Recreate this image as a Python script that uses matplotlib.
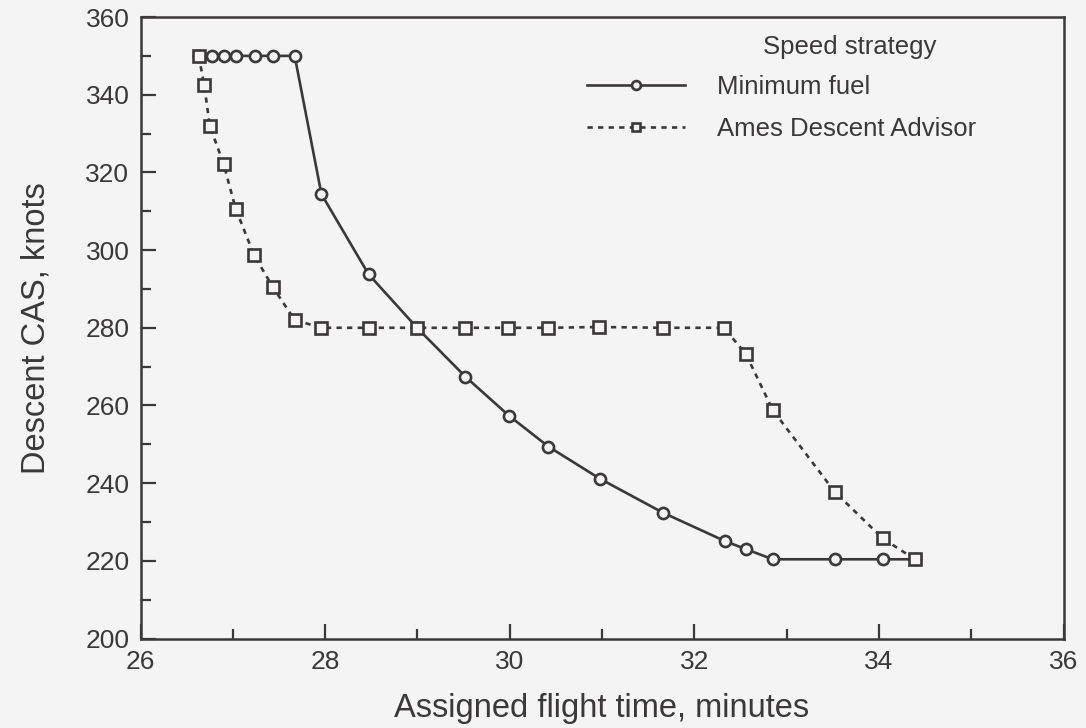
import matplotlib
matplotlib.use('Agg')
import matplotlib.pyplot as plt
from matplotlib.ticker import MultipleLocator

plt.rcParams['font.family'] = ['Liberation Sans', 'DejaVu Sans']

# Minimum fuel speed strategy (circles, solid line)
fuel_time = [26.63, 26.77, 26.90, 27.03, 27.24, 27.44, 27.67, 27.96, 28.47, 29.00,
             29.52, 29.99, 30.42, 30.98, 31.66, 32.33, 32.56, 32.85, 33.52, 34.04, 34.39]
fuel_cas = [350, 350, 350, 350, 350, 350, 350, 314.4, 293.8, 279.9,
            267.4, 257.4, 249.4, 241.1, 232.4, 225.1, 223.0, 220.4, 220.4, 220.4, 220.4]

# Ames Descent Advisor speed strategy (squares, dotted line)
ada_time = [26.63, 26.69, 26.75, 26.90, 27.03, 27.23, 27.43, 27.67, 27.96, 28.47, 29.00,
            29.52, 29.98, 30.42, 30.97, 31.66, 32.32, 32.56, 32.85, 33.52, 34.04, 34.39]
ada_cas = [350, 342.5, 332.0, 322.2, 310.7, 298.7, 290.6, 282.0, 280, 280, 280,
           280, 280, 280, 280.2, 280, 280, 273.2, 258.8, 237.8, 225.8, 220.4]

ink = '#3a3838'
bg = '#f4f4f4'

fig = plt.figure(figsize=(10.86, 7.28), dpi=100, facecolor=bg)
ax = fig.add_axes([0.1294, 0.1229, 0.8499, 0.8537])
ax.set_facecolor(bg)

fuel_line, = ax.plot(fuel_time, fuel_cas, color=ink, lw=1.9, marker='o', ms=8,
                     mfc=bg, mec=ink, mew=1.9, label='Minimum fuel', zorder=3)
ada_line, = ax.plot(ada_time, ada_cas, color=ink, lw=1.9, ls=(0, (2, 2)), marker='s', ms=8,
                    mfc=bg, mec=ink, mew=1.9, label='Ames Descent Advisor', zorder=4)

ax.set_xlim(26, 36)
ax.set_ylim(200, 360)
ax.xaxis.set_major_locator(MultipleLocator(2))
ax.xaxis.set_minor_locator(MultipleLocator(1))
ax.yaxis.set_major_locator(MultipleLocator(20))
ax.yaxis.set_minor_locator(MultipleLocator(10))
ax.tick_params(which='both', direction='in', color=ink, width=1.6, labelcolor=ink,
               labelsize=19, top=False, right=False)
ax.tick_params(which='major', length=11, pad=8)
ax.tick_params(which='minor', length=7)
for sp in ax.spines.values():
    sp.set_color(ink)
    sp.set_linewidth(1.8)

ax.set_xlabel('Assigned flight time, minutes', fontsize=23.5, color=ink, labelpad=14)
ax.set_ylabel('Descent CAS, knots', fontsize=23.5, color=ink, labelpad=24)

ax.text(0.7687, 0.952, 'Speed strategy', transform=ax.transAxes, ha='center', va='center',
        fontsize=18.5, color=ink)
leg = ax.legend(handles=[fuel_line, ada_line], loc='upper left', bbox_to_anchor=(0.4837, 0.907),
                frameon=False, fontsize=18.5, handlelength=3.8, handletextpad=1.25,
                labelspacing=0.72, borderpad=0, borderaxespad=0, numpoints=1, markerscale=0.8)
for t in leg.get_texts():
    t.set_color(ink)

fig.savefig('out.png', dpi=100, facecolor=bg)
